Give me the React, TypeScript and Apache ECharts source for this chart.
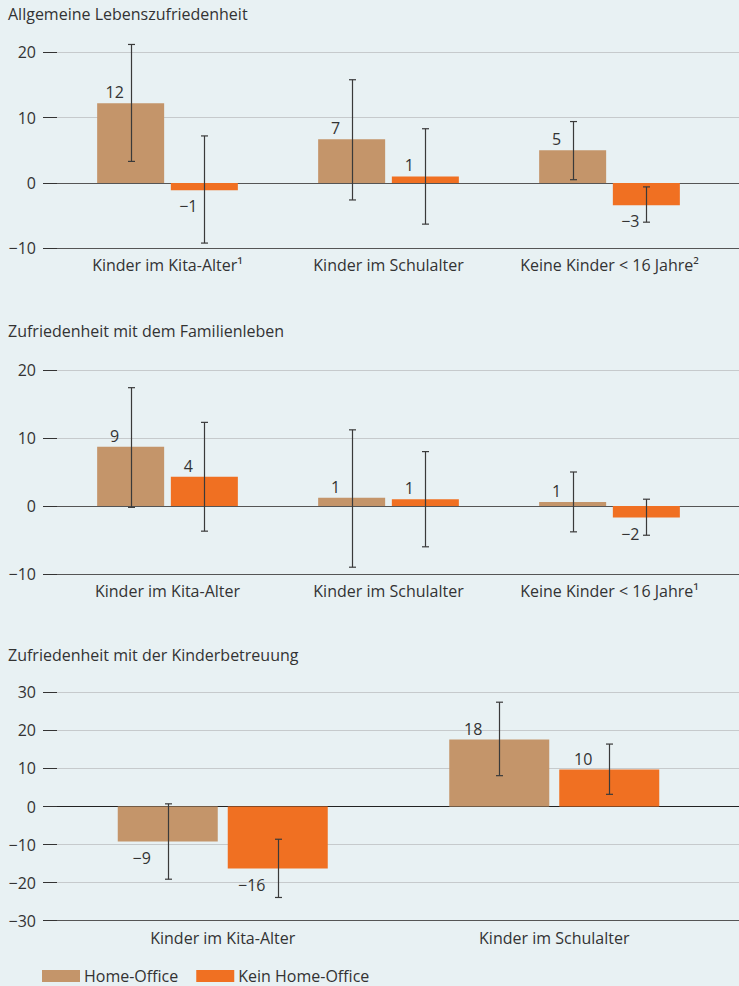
import React, { useEffect, useRef } from "react";
import * as echarts from "echarts";

// ---------- data ----------
const seriesNames = ["Home-Office", "Kein Home-Office"];

const p1Title = "Allgemeine Lebenszufriedenheit";
const p1Categories = ["Kinder im Kita-Alter¹", "Kinder im Schulalter", "Keine Kinder < 16 Jahre²"];
const p1Ticks = [-10, 20];
const p1HomeOffice = [12.2, 6.7, 5.0];
const p1HomeOfficeLow = [3.3, -2.6, 0.5];
const p1HomeOfficeHigh = [21.2, 15.8, 9.4];
const p1NoHomeOffice = [-1.1, 1.0, -3.4];
const p1NoHomeOfficeLow = [-9.2, -6.3, -6.0];
const p1NoHomeOfficeHigh = [7.2, 8.3, -0.6];

const p2Title = "Zufriedenheit mit dem Familienleben";
const p2Categories = ["Kinder im Kita-Alter", "Kinder im Schulalter", "Keine Kinder < 16 Jahre¹"];
const p2Ticks = [-10, 20];
const p2HomeOffice = [8.7, 1.2, 0.6];
const p2HomeOfficeLow = [-0.2, -9.0, -3.8];
const p2HomeOfficeHigh = [17.4, 11.2, 5.0];
const p2NoHomeOffice = [4.3, 1.0, -1.7];
const p2NoHomeOfficeLow = [-3.7, -6.0, -4.3];
const p2NoHomeOfficeHigh = [12.3, 8.0, 1.0];

const p3Title = "Zufriedenheit mit der Kinderbetreuung";
const p3Categories = ["Kinder im Kita-Alter", "Kinder im Schulalter"];
const p3Ticks = [-30, 30];
const p3HomeOffice = [-9.2, 17.6];
const p3HomeOfficeLow = [-19.1, 8.1];
const p3HomeOfficeHigh = [0.7, 27.4];
const p3NoHomeOffice = [-16.3, 9.7];
const p3NoHomeOfficeLow = [-23.9, 3.2];
const p3NoHomeOfficeHigh = [-8.6, 16.4];

// ---------- styles ----------
const FONT = "'Open Sans', 'Noto Sans', sans-serif";
const FS = 16;
const TEXT = "#333333";
const BG = "#E8F1F3";
const GRID_GREY = "#C6CACC";
const DARK_LINE = "#555555";
const BROWN = "#C4956A";
const ORANGE = "#F07022";

const minus = (s: string | number) => String(s).replace(/-/g, "\u2212");

type Panel = {
  title: string;
  titleTop: number;
  categories: string[];
  ticks: number[];
  ho: number[];
  hoLow: number[];
  hoHigh: number[];
  no: number[];
  noLow: number[];
  noHigh: number[];
  top: number;
  height: number;
  barWidth: number;
  labelOffset: number;
  zeroColor: string;
};

const panels: Panel[] = [
  {
    title: p1Title, titleTop: 6, categories: p1Categories, ticks: p1Ticks,
    ho: p1HomeOffice, hoLow: p1HomeOfficeLow, hoHigh: p1HomeOfficeHigh,
    no: p1NoHomeOffice, noLow: p1NoHomeOfficeLow, noHigh: p1NoHomeOfficeHigh,
    top: 52.3, height: 196, barWidth: 67, labelOffset: -16, zeroColor: DARK_LINE,
  },
  {
    title: p2Title, titleTop: 323, categories: p2Categories, ticks: p2Ticks,
    ho: p2HomeOffice, hoLow: p2HomeOfficeLow, hoHigh: p2HomeOfficeHigh,
    no: p2NoHomeOffice, noLow: p2NoHomeOfficeLow, noHigh: p2NoHomeOfficeHigh,
    top: 370, height: 204, barWidth: 67, labelOffset: -16, zeroColor: DARK_LINE,
  },
  {
    title: p3Title, titleTop: 647, categories: p3Categories, ticks: p3Ticks,
    ho: p3HomeOffice, hoLow: p3HomeOfficeLow, hoHigh: p3HomeOfficeHigh,
    no: p3NoHomeOffice, noLow: p3NoHomeOfficeLow, noHigh: p3NoHomeOfficeHigh,
    top: 692.3, height: 228.4, barWidth: 100, labelOffset: -26, zeroColor: "#222222",
  },
];

function buildOption() {
  const grid: any[] = [];
  const xAxis: any[] = [];
  const yAxis: any[] = [];
  const series: any[] = [];
  const title: any[] = [];

  panels.forEach((p) => {
    const [min, max] = p.ticks;
    const nLines = (max - min) / 10 + 1;
    const lineColors: string[] = [];
    for (let k = 0; k < nLines; k++) {
      const v = min + k * 10;
      lineColors.push(k === 0 ? DARK_LINE : v === 0 ? p.zeroColor : GRID_GREY);
    }

    title.push({
      text: p.title,
      left: 8,
      top: p.titleTop,
      padding: 0,
      textStyle: { fontFamily: FONT, fontSize: FS, fontWeight: "normal", color: TEXT },
    });

    // overlay grid for lines / y labels (full width)
    const gOverlay = grid.length;
    grid.push({ left: 57, right: 0, top: p.top, height: p.height, containLabel: false });
    xAxis.push({ gridIndex: gOverlay, type: "value", min: 0, max: 1, show: false });
    yAxis.push({
      gridIndex: gOverlay,
      type: "value",
      min,
      max,
      interval: 10,
      axisLine: { show: true, lineStyle: { color: "rgba(0,0,0,0)" } },
      axisTick: { show: true, length: 14, lineStyle: { color: TEXT, width: 1 } },
      axisLabel: {
        margin: 21,
        fontFamily: FONT,
        fontSize: FS,
        color: TEXT,
        formatter: (v: number) => minus(v),
      },
      splitLine: { show: true, lineStyle: { color: lineColors, width: 1 } },
    });
    series.push({
      type: "line",
      xAxisIndex: xAxis.length - 1,
      yAxisIndex: yAxis.length - 1,
      data: [],
      silent: true,
    });

    // bar grid
    const gBar = grid.length;
    grid.push({ left: 57, right: 19, top: p.top, height: p.height, containLabel: false });
    xAxis.push({
      gridIndex: gBar,
      type: "category",
      data: p.categories,
      axisLine: { show: false },
      axisTick: { show: false },
      axisLabel: {
        interval: 0,
        hideOverlap: false,
        margin: 9,
        fontFamily: FONT,
        fontSize: FS,
        color: TEXT,
      },
    });
    yAxis.push({ gridIndex: gBar, type: "value", min, max, show: false, splitLine: { show: false } });
    const xi = xAxis.length - 1;
    const yi = yAxis.length - 1;

    const gapRatio = 0.1;
    const centerShift = (p.barWidth * (1 + gapRatio)) / 2;

    const mkBar = (name: string, vals: number[], color: string) => ({
      type: "bar",
      name,
      xAxisIndex: xi,
      yAxisIndex: yi,
      barWidth: p.barWidth,
      barGap: gapRatio * 100 + "%",
      itemStyle: { color },
      z: 2,
      data: vals.map((v) => ({
        value: v,
        label: {
          show: true,
          position: v >= 0 ? "top" : "bottom",
          distance: v >= 0 ? 3 : 8,
          offset: [p.labelOffset, 0],
          fontFamily: FONT,
          fontSize: FS,
          color: TEXT,
          formatter: () => minus(Math.round(v)),
        },
      })),
    });

    const mkErr = (lows: number[], highs: number[], shift: number) => ({
      type: "custom",
      xAxisIndex: xi,
      yAxisIndex: yi,
      z: 5,
      silent: true,
      data: lows.map((lo, k) => [k, lo, highs[k]]),
      renderItem: (_params: any, api: any) => {
        const idx = api.value(0);
        const lo = api.coord([idx, api.value(1)]);
        const hi = api.coord([idx, api.value(2)]);
        const x = Math.round(lo[0] + shift) + 0.5;
        const cap = 3.5;
        const style = { stroke: "#3a3a3a", lineWidth: 1.2 };
        return {
          type: "group",
          children: [
            { type: "line", shape: { x1: x, y1: hi[1], x2: x, y2: lo[1] }, style },
            { type: "line", shape: { x1: x - cap, y1: hi[1], x2: x + cap, y2: hi[1] }, style },
            { type: "line", shape: { x1: x - cap, y1: lo[1], x2: x + cap, y2: lo[1] }, style },
          ],
        };
      },
    });

    series.push(mkBar(seriesNames[0], p.ho, BROWN));
    series.push(mkBar(seriesNames[1], p.no, ORANGE));
    series.push(mkErr(p.hoLow, p.hoHigh, -centerShift));
    series.push(mkErr(p.noLow, p.noHigh, centerShift));
  });

  return {
    animation: false,
    backgroundColor: BG,
    textStyle: { fontFamily: FONT },
    title,
    grid,
    xAxis,
    yAxis,
    series,
    legend: {
      data: seriesNames,
      left: 42,
      top: 968,
      padding: 0,
      itemWidth: 38,
      itemHeight: 12,
      itemGap: 18,
      icon: "rect",
      selectedMode: false,
      textStyle: {
        fontFamily: FONT,
        fontSize: FS,
        lineHeight: 16,
        color: TEXT,
        padding: [0, 0, 0, -1],
      },
    },
  };
}

export default function App() {
  const ref = useRef<HTMLDivElement>(null);
  useEffect(() => {
    if (!ref.current) return;
    const chart = echarts.init(ref.current, undefined, { renderer: "svg" });
    chart.setOption(buildOption() as any);
    return () => chart.dispose();
  }, []);
  return (
    <div
      ref={ref}
      style={{ position: "absolute", left: 0, top: 0, width: 739, height: 986 }}
    />
  );
}
